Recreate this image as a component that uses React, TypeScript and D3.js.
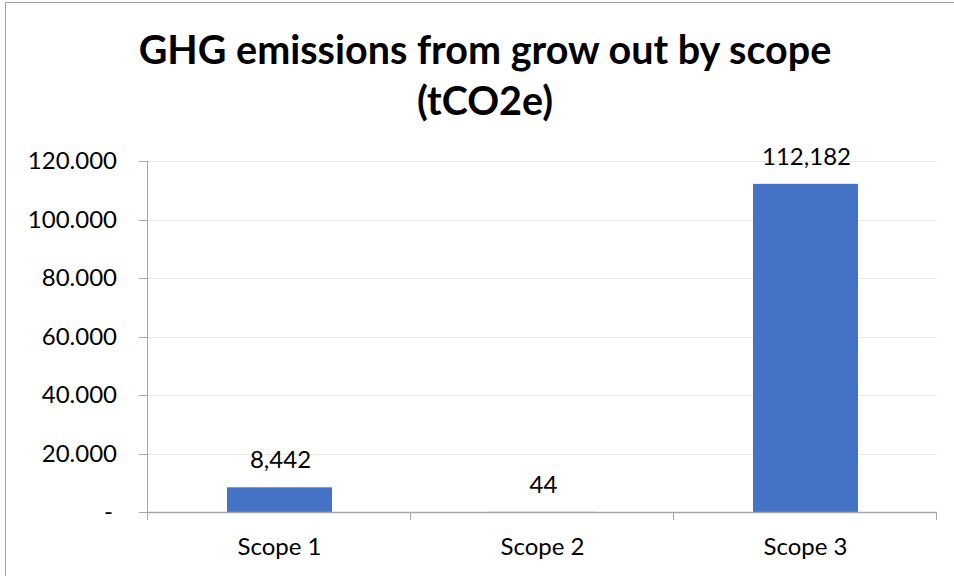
import React from "react";
import * as d3 from "d3";

const categories = ["Scope 1", "Scope 2", "Scope 3"];
const values = [8442, 44, 112182];
const valueLabels = ["8,442", "44", "112,182"];
const yTicks = [0, 20000, 40000, 60000, 80000, 100000, 120000];
const yTickLabels = ["-", "20.000", "40.000", "60.000", "80.000", "100.000", "120.000"];
const titleLines = ["GHG emissions from grow out by scope", "(tCO2e)"];

const W = 954;
const H = 576;
const FONT = "Lato, 'Open Sans', sans-serif";

export default function App() {
  const left = 148;
  const right = 937;
  const top = 161;
  const bottom = 512;

  const xOuter = d3.scaleBand<string>().domain(categories).range([left, right]);
  const y = d3.scaleLinear().domain([0, 120000]).range([bottom, top]);

  const bandW = xOuter.bandwidth();
  const barW = 105;

  return (
    <svg width={W} height={H} style={{ position: "absolute", left: 0, top: 0, background: "#fff" }}>
      <rect x={5.5} y={2.5} width={W + 10} height={H + 10} fill="#fff" stroke="#a6a6a6" strokeWidth={1} />
      {titleLines.map((t, i) => (
        <text key={i} x={485} y={63.5 + i * 51.5} textAnchor="middle" fontFamily={FONT} fontWeight={700} fontSize={39.5} fill="#000">
          {t}
        </text>
      ))}
      {yTicks.map((v) =>
        v === 0 ? null : (
          <line key={"g" + v} x1={left} x2={right} y1={Math.round(y(v)) + 0.5} y2={Math.round(y(v)) + 0.5} stroke="#e8e8e8" strokeWidth={1} />
        )
      )}
      {categories.map((c, i) => {
        const cx = (xOuter(c) as number) + bandW / 2;
        const bx = cx - barW / 2;
        const by = y(values[i]);
        return (
          <g key={c}>
            <rect x={bx} y={by} width={barW} height={bottom - by} fill="#4472c4" />
            <text x={cx + 1} y={by - 19} textAnchor="middle" fontFamily={FONT} fontSize={24} fill="#000">
              {valueLabels[i]}
            </text>
            <text x={cx} y={555} textAnchor="middle" fontFamily={FONT} fontSize={24} fill="#000">
              {c}
            </text>
          </g>
        );
      })}
      {/* y axis */}
      <line x1={left - 0.5} x2={left - 0.5} y1={top} y2={bottom + 8} stroke="#a6a6a6" strokeWidth={1} />
      {yTicks.map((v, i) => (
        <g key={"t" + v}>
          <line x1={139} x2={left} y1={Math.round(y(v)) + 0.5} y2={Math.round(y(v)) + 0.5} stroke="#a6a6a6" strokeWidth={1} />
          <text x={v === 0 ? 113 : 117} y={y(v)} dy="0.35em" textAnchor="end" fontFamily={FONT} fontSize={24} fill="#000">
            {yTickLabels[i]}
          </text>
        </g>
      ))}
      {/* x axis */}
      <line x1={left} x2={right} y1={bottom + 0.5} y2={bottom + 0.5} stroke="#a6a6a6" strokeWidth={1.5} />
      {[...categories.map((c) => xOuter(c) as number), right].map((xv, i) => (
        <line key={"xt" + i} x1={Math.round(xv) - 0.5} x2={Math.round(xv) - 0.5} y1={bottom} y2={bottom + 8} stroke="#a6a6a6" strokeWidth={1} />
      ))}
    </svg>
  );
}
